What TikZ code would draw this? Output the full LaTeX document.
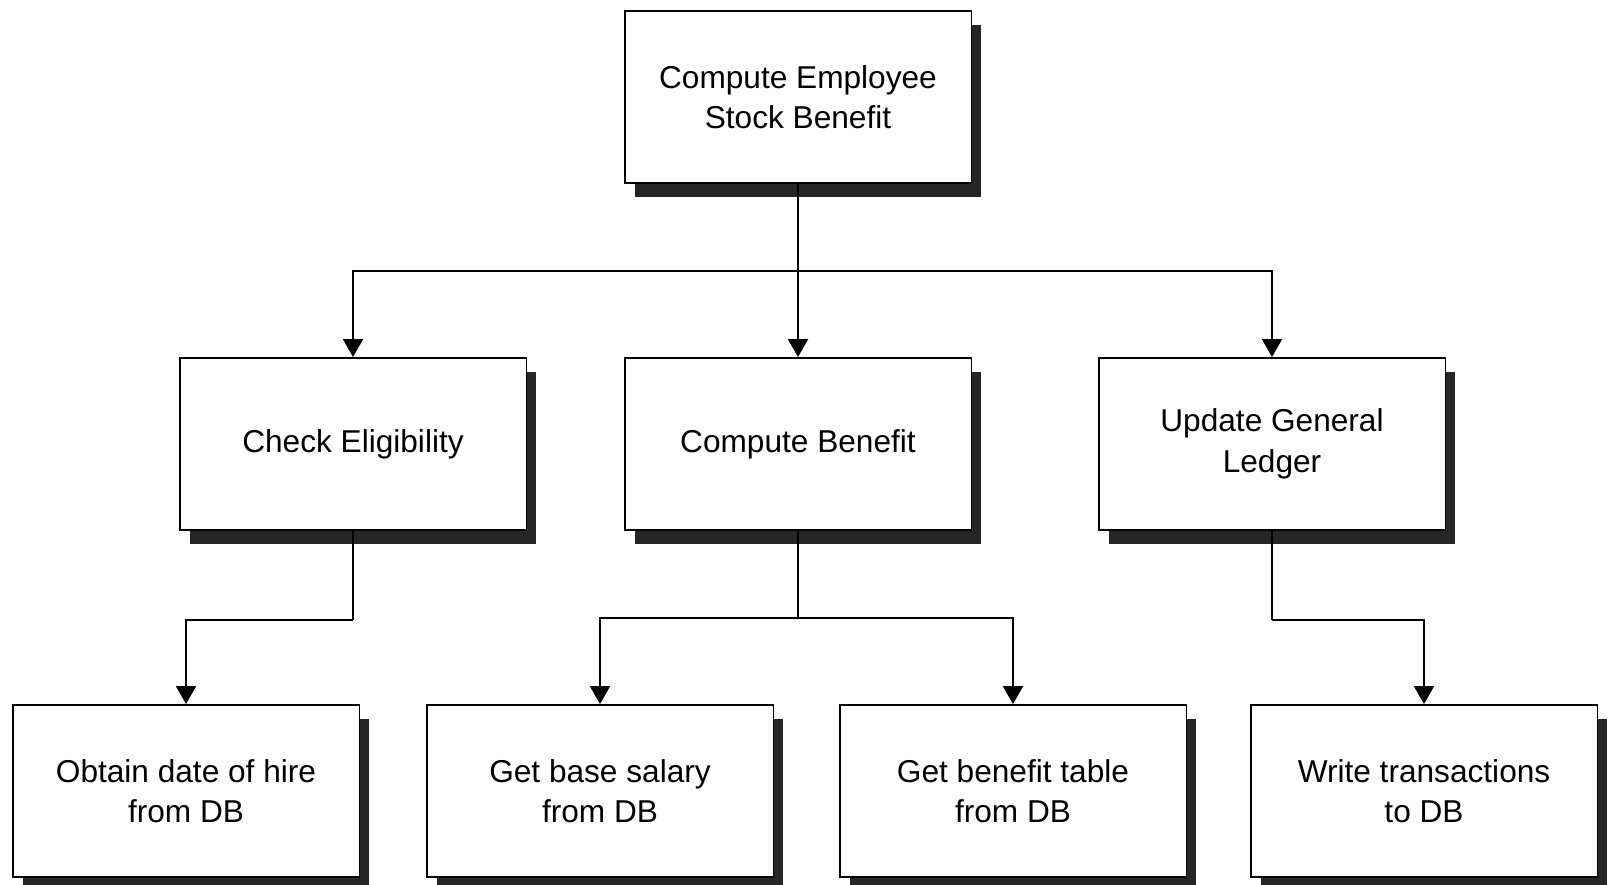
\documentclass[tikz,border=0pt]{standalone}
\usepackage{fontspec}
\setmainfont{Liberation Sans}
\usetikzlibrary{arrows.meta,shadows}

\begin{document}
\begin{tikzpicture}[
    x=0.02cm, y=-0.02cm,
    box/.style={
      draw=black,
      line width=1.1pt,
      align=center,
      font=\fontsize{18}{23}\selectfont,
      minimum width=6.94cm,
      minimum height=3.44cm,
      inner sep=4pt,
      fill=white,
      drop shadow={shadow xshift=0.2cm, shadow yshift=-0.28cm, fill=black, opacity=0.85}
    },
    arr/.style={-{Triangle[width=0.4cm,length=0.36cm]}, line width=1.1pt}
  ]
    \useasboundingbox (0,0) rectangle (1608,885);

    % top level
    \node[box] (top) at (798,97) {Compute Employee\\Stock Benefit};

    % second level
    \node[box] (check)   at (353,444)  {Check Eligibility};
    \node[box] (compute) at (798,444)  {Compute Benefit};
    \node[box] (update)  at (1272,444) {Update General\\Ledger};

    % third level
    \node[box] (obtain) at (186,791)  {Obtain date of hire\\from DB};
    \node[box] (salary) at (600,791)  {Get base salary\\from DB};
    \node[box] (table)  at (1013,791) {Get benefit table\\from DB};
    \node[box] (write)  at (1424,791) {Write transactions\\to DB};

    \coordinate (j1) at (798,271);
    \coordinate (j2) at (353,620);
    \coordinate (j3) at (798,618);
    \coordinate (j4) at (1272,620);

    \draw[line width=1.1pt] (top.south) -- (j1);
    \draw[arr] (j1) -| (check.north);
    \draw[arr] (j1) -- (compute.north);
    \draw[arr] (j1) -| (update.north);

    \draw[line width=1.1pt] (check.south) -- (j2);
    \draw[arr] (j2) -| (obtain.north);

    \draw[line width=1.1pt] (compute.south) -- (j3);
    \draw[arr] (j3) -| (salary.north);
    \draw[arr] (j3) -| (table.north);

    \draw[line width=1.1pt] (update.south) -- (j4);
    \draw[arr] (j4) -| (write.north);
  \end{tikzpicture}
\end{document}
